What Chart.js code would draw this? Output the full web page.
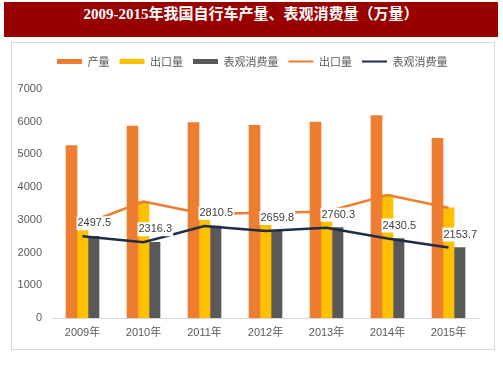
<!DOCTYPE html>
<html>
<head>
<meta charset="utf-8">
<script src="https://cdn.jsdelivr.net/npm/chart.js@4/dist/chart.umd.min.js"></script>
<style>
  html, body { margin: 0; padding: 0; background: #ffffff; width: 503px; height: 378px; overflow: hidden; }
  #title {
    position: absolute; left: 4px; top: 2px; width: 494px; height: 35px;
    background: #990000; color: #ffffff; text-align: center; line-height: 35px;
    font: bold 15px "Liberation Serif", "Noto Sans CJK SC", serif;
  }
  #frame {
    position: absolute; left: 11px; top: 42px; width: 484px; height: 308px;
    box-sizing: border-box; border: 1px solid #d9d9d9;
  }
  #chart { position: absolute; left: 0; top: 0; }
</style>
</head>
<body>
<div id="title">2009-2015年我国自行车产量、表观消费量（万量）</div>
<div id="frame"></div>
<canvas id="chart" width="503" height="378"></canvas>
<script>
const categories = ['2009年', '2010年', '2011年', '2012年', '2013年', '2014年', '2015年'];
const production = [5270, 5870, 5970, 5890, 5990, 6190, 5490];
const exports = [2850, 3560, 3180, 3220, 3250, 3760, 3370];
const consumption = [2497.5, 2316.3, 2810.5, 2659.8, 2760.3, 2430.5, 2153.7];
const yTicks = [0, 1000, 2000, 3000, 4000, 5000, 6000, 7000];
const seriesNames = ['产量', '出口量', '表观消费量', '出口量', '表观消费量'];

const COL_ORANGE = '#ED7D31';
const COL_YELLOW = '#FFC000';
const COL_GRAY = '#595959';
const COL_NAVY = '#1F2B47';
const TEXT = '#595959';
const FONT_FAMILY = '"Liberation Sans", "Noto Sans CJK SC", Arial, sans-serif';

const legendPatch = {
  id: 'legendPatch',
  beforeLayout(chart) {
    const lg = chart.legend;
    if (lg && !lg._patched) {
      const orig = lg.fit;
      lg.fit = function () { orig.call(this); this.height = 43; };
      lg._patched = true;
    }
  }
};

const valueLabels = {
  id: 'valueLabels',
  afterDatasetsDraw(chart) {
    const meta = chart.getDatasetMeta(4);
    const ctx = chart.ctx;
    ctx.save();
    ctx.font = '11px ' + FONT_FAMILY;
    ctx.textBaseline = 'middle';
    ctx.textAlign = 'left';
    meta.data.forEach((pt, i) => {
      const txt = consumption[i].toFixed(1);
      const w = ctx.measureText(txt).width;
      const x = pt.x - 5;
      const y = pt.y - 13;
      ctx.fillStyle = '#ffffff';
      ctx.fillRect(x - 1, y - 7, w + 2, 14);
      ctx.fillStyle = '#404040';
      ctx.fillText(txt, x, y);
    });
    ctx.restore();
  }
};

new Chart(document.getElementById('chart'), {
  data: {
    labels: categories,
    datasets: [
      { type: 'bar', label: seriesNames[0], data: production, backgroundColor: COL_ORANGE, barThickness: 11, order: 1 },
      { type: 'bar', label: seriesNames[1], data: exports, backgroundColor: COL_YELLOW, barThickness: 11, order: 1 },
      { type: 'bar', label: seriesNames[2], data: consumption, backgroundColor: COL_GRAY, barThickness: 11, order: 1 },
      { type: 'line', label: seriesNames[3], data: exports, borderColor: COL_ORANGE, borderWidth: 2.5, pointRadius: 0, tension: 0, fill: false, order: 0 },
      { type: 'line', label: seriesNames[4], data: consumption, borderColor: COL_NAVY, borderWidth: 2.5, pointRadius: 0, tension: 0, fill: false, order: 0 }
    ]
  },
  options: {
    responsive: false,
    animation: false,
    devicePixelRatio: 1,
    layout: { padding: { left: 11, right: 9.5, top: 46, bottom: 30 } },
    plugins: {
      tooltip: { enabled: false },
      legend: {
        position: 'top',
        labels: {
          usePointStyle: true,
          pointStyleWidth: 25,
          boxHeight: 5,
          padding: 10,
          color: TEXT,
          font: { size: 11, family: '"Noto Sans CJK SC", sans-serif' },
          generateLabels(chart) {
            const ds = chart.data.datasets;
            return ds.map((d, i) => {
              const isLine = d.type === 'line';
              return {
                text: d.label,
                datasetIndex: i,
                pointStyle: isLine ? 'line' : 'rect',
                fillStyle: isLine ? 'rgba(0,0,0,0)' : d.backgroundColor,
                strokeStyle: isLine ? d.borderColor : d.backgroundColor,
                lineWidth: isLine ? 2 : 0,
                fontColor: TEXT,
                hidden: false
              };
            });
          }
        }
      }
    },
    scales: {
      x: {
        type: 'category',
        grid: { display: false, drawTicks: false },
        border: { display: true, color: '#d9d9d9', width: 1 },
        ticks: { color: TEXT, font: { size: 11, family: FONT_FAMILY }, padding: 8, maxRotation: 0 },
        afterFit(scale) { scale.height = 30; }
      },
      y: {
        min: 0,
        max: 7000,
        grid: { display: false, drawTicks: false },
        border: { display: false },
        afterBuildTicks(scale) { scale.ticks = yTicks.map(v => ({ value: v })); },
        ticks: {
          color: TEXT,
          font: { size: 11, family: FONT_FAMILY },
          padding: 10,
          callback: (value) => String(value)
        },
        afterFit(scale) { scale.width = 41; }
      },
      y2: {
        type: 'linear',
        position: 'right',
        min: 0,
        max: 7000,
        grid: { display: false, drawTicks: false },
        border: { display: false },
        ticks: { display: false },
        afterFit(scale) { scale.width = 14.5; }
      }
    }
  },
  plugins: [legendPatch, valueLabels]
});
</script>
</body>
</html>
